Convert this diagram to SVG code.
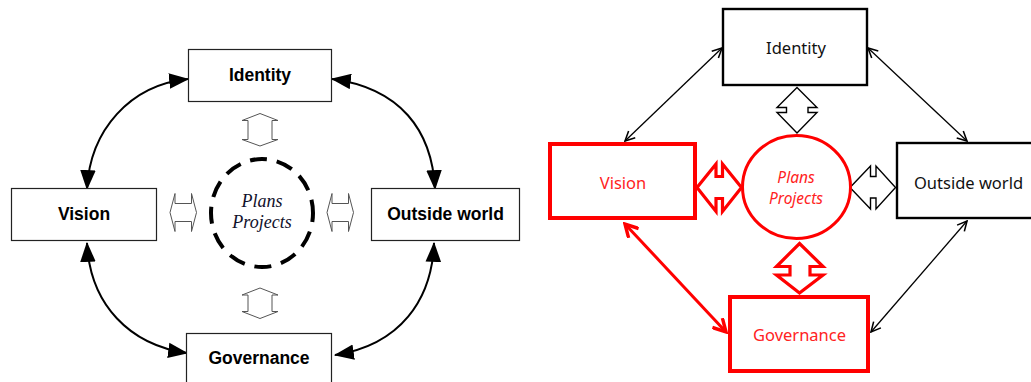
<svg xmlns="http://www.w3.org/2000/svg" width="1031" height="382" viewBox="0 0 1031 382">
<defs>
<style>
.lbox{fill:#fff;stroke:#222;stroke-width:1.2}
.ltxt{font-family:"Liberation Sans",Arial,sans-serif;font-weight:bold;font-size:17.5px;fill:#000;text-anchor:middle}
.ital{font-family:"Liberation Serif","Times New Roman",serif;font-style:italic;font-size:18px;fill:#10102a;text-anchor:middle}
.curve{fill:none;stroke:#000;stroke-width:2}
.hollow{fill:#fff;stroke:#555;stroke-width:1}
.rbox{fill:#fff;stroke:#000;stroke-width:2.4}
.rboxr{fill:#fff;stroke:#f00;stroke-width:4}
.rtxt{font-family:"Noto Sans","Open Sans",sans-serif;font-size:16.5px;text-anchor:middle}
.rital{font-family:"Noto Sans","Open Sans",sans-serif;font-style:italic;font-size:15.5px;text-anchor:middle;fill:#f22}
.thin{fill:none;stroke:#000;stroke-width:1.3}
.thick{fill:none;stroke:#f00;stroke-width:3}
.blk{fill:#fff;stroke:#000;stroke-width:1.4;stroke-linejoin:miter}
.red{fill:#fff;stroke:#f00;stroke-width:3.2;stroke-linejoin:miter}
</style>
<marker id="tri" markerUnits="userSpaceOnUse" markerWidth="20" markerHeight="16" refX="17" refY="7" orient="auto-start-reverse" viewBox="0 0 18 14">
<path d="M0,0 L18,7 L0,14 Z" fill="#000"/>
</marker>
<marker id="chev" markerUnits="userSpaceOnUse" markerWidth="12" markerHeight="12" refX="9" refY="5" orient="auto-start-reverse" viewBox="0 0 10 10">
<path d="M1,1 L9,5 L1,9" fill="none" stroke="#000" stroke-width="1.3"/>
</marker>
<marker id="chevr" markerUnits="userSpaceOnUse" markerWidth="16" markerHeight="16" refX="12" refY="7" orient="auto-start-reverse" viewBox="0 0 14 14">
<path d="M1,1 L12,7 L1,13" fill="none" stroke="#f00" stroke-width="3"/>
</marker>
</defs>

<!-- LEFT DIAGRAM -->
<g id="connectors-left">
<path class="curve" d="M188,79 C130,85 90,130 87,189" marker-start="url(#tri)" marker-end="url(#tri)"/>
<path class="curve" d="M87,243 C90,305 130,345 187,353" marker-start="url(#tri)" marker-end="url(#tri)"/>
<path class="curve" d="M332,79 C400,88 432,130 435,189" marker-start="url(#tri)" marker-end="url(#tri)"/>
<path class="curve" d="M434,243 C432,300 400,345 335,355" marker-start="url(#tri)" marker-end="url(#tri)"/>
<polygon class="hollow" points="260,113.5 278,120.5 272,120.5 272,139.5 278,139.5 260,146 242,139.5 248,139.5 248,120.5 242,120.5"/>
<polygon class="hollow" points="260,288 278,295 272,295 272,311.5 278,311.5 260,318.5 242,311.5 248,311.5 248,295 242,295"/>
<polygon class="hollow" points="170,212.5 175,193.5 175,203.5 191.5,203.5 191.5,193.5 196.5,212.5 191.5,231.5 191.5,221.5 175,221.5 175,231.5"/>
<polygon class="hollow" points="327,212.5 332,193.5 332,203.5 348.5,203.5 348.5,193.5 353.5,212.5 348.5,231.5 348.5,221.5 332,221.5 332,231.5"/>
</g>

<g id="l-identity">
<rect class="lbox" x="188.5" y="49.5" width="143" height="52"/>
<text class="ltxt" x="260" y="81">Identity</text>
</g>
<g id="l-vision">
<rect class="lbox" x="11.5" y="188.5" width="145" height="52"/>
<text class="ltxt" x="84" y="220">Vision</text>
</g>
<g id="l-outside">
<rect class="lbox" x="371.5" y="188.5" width="148" height="52"/>
<text class="ltxt" x="445.5" y="220">Outside world</text>
</g>
<g id="l-governance">
<rect class="lbox" x="186.5" y="333.5" width="145" height="52"/>
<text class="ltxt" x="259" y="364">Governance</text>
</g>
<g id="l-plans">
<ellipse cx="262" cy="213" rx="51" ry="54" fill="none" stroke="#000" stroke-width="4" stroke-dasharray="17 10" stroke-dashoffset="8"/>
<text class="ital" x="262" y="206.5">Plans</text>
<text class="ital" x="262" y="228">Projects</text>
</g>

<!-- RIGHT DIAGRAM -->
<g id="connectors-right">
<line class="thin" x1="722" y1="48" x2="625" y2="141" marker-start="url(#chev)" marker-end="url(#chev)"/>
<line class="thin" x1="868" y1="48" x2="967" y2="141" marker-start="url(#chev)" marker-end="url(#chev)"/>
<line class="thin" x1="967" y1="221" x2="871" y2="332" marker-start="url(#chev)" marker-end="url(#chev)"/>
<line class="thick" x1="625" y1="224" x2="726" y2="332" marker-start="url(#chevr)" marker-end="url(#chevr)"/>
<polygon class="blk" points="797,87.5 817,107.5 808,107.5 808,112.5 817,112.5 797,133 777,112.5 786.5,112.5 786.5,107.5 777,107.5"/>
<polygon class="red" points="799.5,243.5 823,266.5 810,266.5 810,275 823,275 799.5,293 776.5,275 790,275 790,266.5 776.5,266.5"/>
<polygon class="red" points="697,187.5 716,164 716,176.5 722.5,176.5 722.5,164 741.5,187.5 722.5,211.5 722.5,198.5 716,198.5 716,211.5"/>
<polygon class="blk" points="850,187.5 870.5,166 870.5,176.5 876,176.5 876,166 895.5,187.5 876,209 876,198 870.5,198 870.5,209"/>
</g>

<g id="r-identity">
<rect class="rbox" x="723" y="9" width="144" height="76"/>
<text class="rtxt" x="796" y="54" fill="#111">Identity</text>
</g>
<g id="r-vision">
<rect class="rboxr" x="550" y="144" width="145" height="74"/>
<text class="rtxt" x="623" y="189" fill="#f22">Vision</text>
</g>
<g id="r-outside">
<rect class="rbox" x="897" y="143" width="145" height="75"/>
<text class="rtxt" x="968.5" y="189" fill="#111">Outside world</text>
</g>
<g id="r-governance">
<rect class="rboxr" x="730" y="297" width="138" height="74"/>
<text class="rtxt" x="799.5" y="340.5" fill="#f22">Governance</text>
</g>
<g id="r-plans">
<ellipse cx="796.5" cy="187" rx="54" ry="51.5" fill="#fff" stroke="#f00" stroke-width="3"/>
<text class="rital" x="796" y="183">Plans</text>
<text class="rital" x="796" y="204">Projects</text>
</g>
</svg>
